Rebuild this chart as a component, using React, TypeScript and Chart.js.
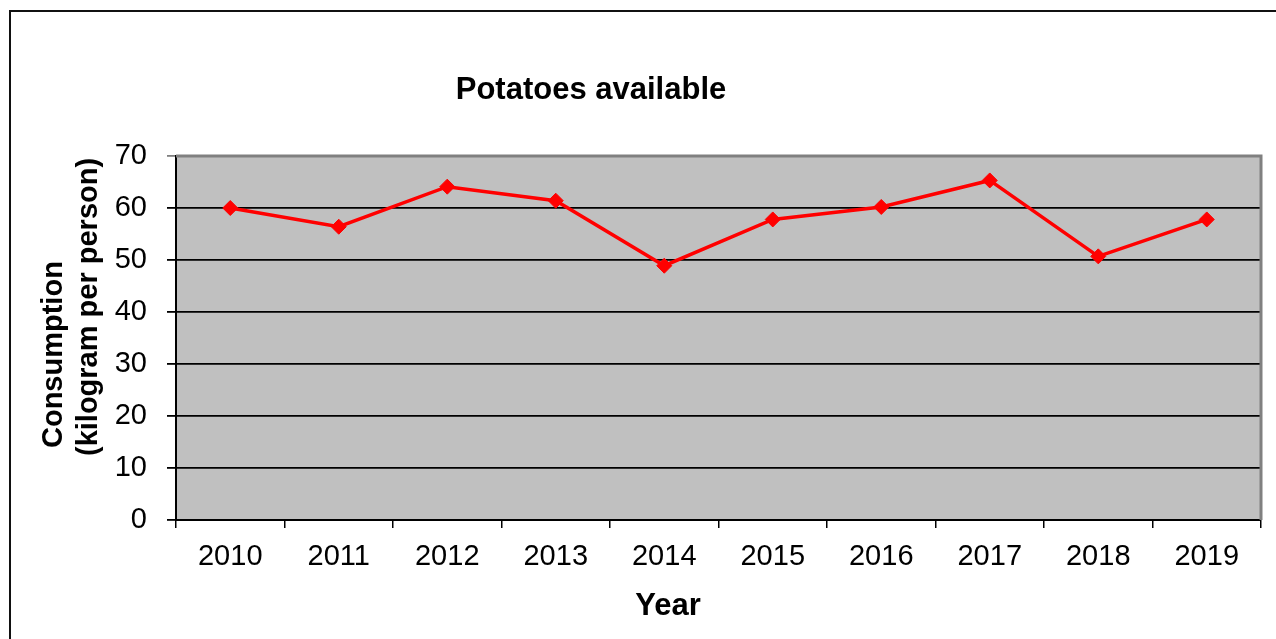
import React, { useEffect, useRef } from "react";
import { Chart, registerables } from "chart.js";

Chart.register(...registerables);

const years = ["2010", "2011", "2012", "2013", "2014", "2015", "2016", "2017", "2018", "2019"];
const consumption = [60, 56.4, 64.1, 61.4, 48.9, 57.8, 60.2, 65.3, 50.7, 57.8];
const chartTitle = "Potatoes available";
const xTitle = "Year";
const yTitleLines = ["Consumption", "(kilogram per person)"];
const yMin = 0;
const yMax = 70;
const yStep = 10;

const FONT = "'Liberation Sans', Arial, sans-serif";

const decorPlugin = {
  id: "decor",
  beforeDraw(chart: any) {
    const { ctx, chartArea: a } = chart;
    ctx.save();
    ctx.fillStyle = "#C0C0C0";
    ctx.fillRect(a.left, a.top, a.right - a.left, a.bottom - a.top);
    ctx.restore();
  },
  beforeDatasetsDraw(chart: any) {
    const { ctx, chartArea: a } = chart;
    ctx.save();
    ctx.strokeStyle = "#808080";
    ctx.lineWidth = 3;
    ctx.beginPath();
    ctx.moveTo(a.left, a.top);
    ctx.lineTo(a.right, a.top);
    ctx.lineTo(a.right, a.bottom);
    ctx.stroke();
    ctx.restore();
  },
  afterDraw(chart: any) {
    const { ctx } = chart;
    ctx.save();
    ctx.fillStyle = "#000";
    ctx.textBaseline = "alphabetic";
    ctx.font = `bold 31px ${FONT}`;
    ctx.textAlign = "center";
    ctx.fillText(chartTitle, 591, 99);
    ctx.font = `bold 31px ${FONT}`;
    ctx.fillText(xTitle, 668, 615);
    ctx.font = `bold 29px ${FONT}`;
    ctx.textAlign = "left";
    const xs = [62, 97];
    const ys = [448, 456];
    yTitleLines.forEach((line, i) => {
      ctx.save();
      ctx.translate(xs[i], ys[i]);
      ctx.rotate(-Math.PI / 2);
      ctx.fillText(line, 0, 0);
      ctx.restore();
    });
    ctx.restore();
  },
};

export default function App() {
  const ref = useRef<HTMLCanvasElement | null>(null);
  useEffect(() => {
    if (!ref.current) return;
    const chart = new Chart(ref.current, {
      type: "line",
      data: {
        labels: years,
        datasets: [
          {
            data: consumption,
            borderColor: "#FF0000",
            backgroundColor: "#FF0000",
            borderWidth: 3.5,
            pointStyle: "rectRot",
            pointRadius: 7.5,
            pointBorderWidth: 1,
            pointBackgroundColor: "#FF0000",
            pointBorderColor: "#FF0000",
            tension: 0,
          },
        ],
      },
      options: {
        animation: false,
        responsive: false,
        layout: { padding: { left: 0, top: 156, right: 15, bottom: 0 } },
        plugins: {
          legend: { display: false },
          title: { display: false },
          tooltip: { enabled: false },
        },
        scales: {
          x: {
            type: "category",
            offset: true,
            afterFit: (s: any) => {
              s.height = 119;
            },
            grid: {
              offset: true,
              drawOnChartArea: false,
              drawTicks: true,
              tickLength: 8,
              color: "#000",
              lineWidth: 1.5,
            },
            border: { color: "#000", width: 2 },
            ticks: {
              color: "#000",
              font: { family: FONT, size: 29 },
              padding: 12,
              maxRotation: 0,
              autoSkip: false,
            },
          },
          y: {
            min: yMin,
            max: yMax,
            afterFit: (s: any) => {
              s.width = 176;
            },
            grid: {
              color: (c: any) => (c.tick && c.tick.value === yMax ? "#808080" : "#000"),
              lineWidth: 1.8,
              tickLength: 9,
            },
            border: { color: "#000", width: 2 },
            ticks: {
              stepSize: yStep,
              color: "#000",
              font: { family: FONT, size: 29 },
              padding: 20,
            },
          },
        },
      },
      plugins: [decorPlugin],
    });
    return () => chart.destroy();
  }, []);

  return (
    <div
      style={{
        position: "fixed",
        left: 0,
        top: 0,
        width: 1276,
        height: 639,
        background: "#fff",
        overflow: "hidden",
      }}
    >
      <div
        style={{
          position: "absolute",
          left: 9,
          top: 10,
          width: 1400,
          height: 800,
          border: "2px solid #111",
          boxSizing: "border-box",
        }}
      />
      <canvas
        ref={ref}
        width={1276}
        height={639}
        style={{ position: "absolute", left: 0, top: 0, width: 1276, height: 639 }}
      />
    </div>
  );
}
